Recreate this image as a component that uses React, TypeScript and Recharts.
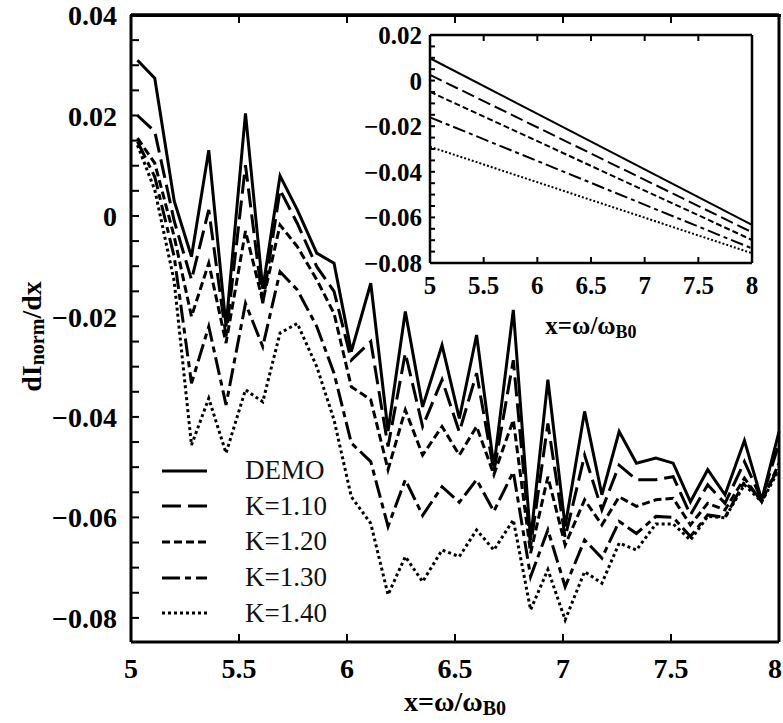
import React from 'react';
import { LineChart, Line, XAxis, YAxis, ReferenceLine } from 'recharts';

const FONT = '"Liberation Serif", "Times New Roman", serif';

// main plot: x grid and the five curves
const xValues = [5.03, 5.11, 5.2, 5.28, 5.36, 5.44, 5.53, 5.61, 5.69, 5.77, 5.86, 5.94, 6.02, 6.11, 6.19, 6.27, 6.35, 6.44, 6.52, 6.6, 6.68, 6.77, 6.85, 6.93, 7.01, 7.1, 7.18, 7.26, 7.34, 7.43, 7.51, 7.59, 7.67, 7.75, 7.84, 7.92, 8.0];
const demo = [0.031, 0.0274, 0.003, -0.0081, 0.0131, -0.022, 0.0204, -0.0145, 0.008, 0.0012, -0.0074, -0.0094, -0.027, -0.0134, -0.0428, -0.019, -0.038, -0.0257, -0.0403, -0.0237, -0.0499, -0.0187, -0.0645, -0.0326, -0.0618, -0.0389, -0.0555, -0.0429, -0.0492, -0.0482, -0.0492, -0.0569, -0.0505, -0.0555, -0.0447, -0.0565, -0.0429];
const k110 = [0.02, 0.0168, -0.001, -0.0127, 0.0012, -0.024, 0.0101, -0.0174, 0.0052, -0.0015, -0.0101, -0.015, -0.0287, -0.025, -0.0459, -0.0273, -0.0419, -0.0326, -0.043, -0.0313, -0.0509, -0.0287, -0.0658, -0.0413, -0.064, -0.0476, -0.0585, -0.0496, -0.0525, -0.0525, -0.0519, -0.0595, -0.0535, -0.0572, -0.0489, -0.0565, -0.0452];
const k120 = [0.0155, 0.0105, -0.0041, -0.02, -0.0094, -0.0253, -0.003, -0.017, -0.0018, -0.0061, -0.0127, -0.0194, -0.034, -0.0366, -0.0505, -0.0386, -0.0476, -0.0419, -0.0476, -0.0419, -0.0515, -0.0406, -0.0671, -0.0519, -0.0655, -0.0565, -0.0615, -0.0559, -0.0578, -0.0565, -0.0562, -0.0615, -0.0572, -0.0585, -0.0522, -0.0569, -0.0492];
const k130 = [0.0148, 0.0078, -0.0081, -0.0333, -0.022, -0.0376, -0.0174, -0.026, -0.0111, -0.0147, -0.022, -0.0313, -0.0452, -0.0489, -0.0618, -0.0525, -0.0596, -0.0539, -0.057, -0.0525, -0.0588, -0.0509, -0.0718, -0.0625, -0.0738, -0.0645, -0.0681, -0.0608, -0.0632, -0.0598, -0.06, -0.0638, -0.0595, -0.06, -0.0529, -0.0565, -0.0499];
const k140 = [0.0141, 0.0052, -0.013, -0.0456, -0.0363, -0.0472, -0.0346, -0.037, -0.0233, -0.0214, -0.03, -0.0406, -0.0559, -0.0612, -0.0754, -0.0678, -0.0728, -0.0665, -0.0678, -0.0625, -0.0665, -0.0605, -0.0784, -0.0704, -0.0804, -0.0708, -0.0731, -0.0651, -0.0665, -0.0613, -0.0613, -0.0645, -0.0598, -0.0601, -0.0535, -0.0569, -0.0505];

const seriesNames = ['DEMO', 'K=1.10', 'K=1.20', 'K=1.30', 'K=1.40'];
const seriesKeys = ['demo', 'k110', 'k120', 'k130', 'k140'];

const mainXTicks = [5, 5.5, 6, 6.5, 7, 7.5, 8];
const mainYTop = 0.04;
const mainYMajor = [0.04, 0.02, 0, -0.02, -0.04, -0.06, -0.08];
const mainYTicks = [0.04, 0.035, 0.03, 0.025, 0.02, 0.015, 0.01, 0.005, 0, -0.005, -0.01, -0.015, -0.02, -0.025, -0.03, -0.035, -0.04, -0.045, -0.05, -0.055, -0.06, -0.065, -0.07, -0.075, -0.08];

// inset: straight lines, start and end values
const insetX = [5, 8];
const insetDemo = [0.0098, -0.0633];
const insetK110 = [0.0025, -0.0665];
const insetK120 = [-0.0049, -0.0699];
const insetK130 = [-0.0161, -0.0736];
const insetK140 = [-0.029, -0.0757];
const insetXTicks = [5, 5.5, 6, 6.5, 7, 7.5, 8];
const insetYMajor = [0.02, 0, -0.02, -0.04, -0.06, -0.08];
const insetYTicks = [0.02, 0.015, 0.01, 0.005, 0, -0.005, -0.01, -0.015, -0.02, -0.025, -0.03, -0.035, -0.04, -0.045, -0.05, -0.055, -0.06, -0.065, -0.07, -0.075, -0.08];

const mainData = xValues.map((x, i) => ({ x, demo: demo[i], k110: k110[i], k120: k120[i], k130: k130[i], k140: k140[i] }));
const insetData = insetX.map((x, i) => ({ x, demo: insetDemo[i], k110: insetK110[i], k120: insetK120[i], k130: insetK130[i], k140: insetK140[i] }));

const mainDash = [undefined, '19 7', '8 4', '18 5 6 5', '3 3'];
const insetDash = [undefined, '13 5', '6 3', '13 4 4 4', '2 2'];

const fmt = (v: number) => {
  const r = Math.round(v * 1000) / 1000;
  if (r === 0) return '0';
  return (r < 0 ? '\u2212' : '') + Math.abs(r).toFixed(2);
};
const isIn = (v: number, list: number[]) => list.some((m) => Math.abs(m - v) < 1e-9);

const leftTick = (majors: number[], len: number, size: number, gap: number) => (props: any) => {
  const { x, y, payload } = props;
  return (
    <g>
      <line x1={x} x2={x + len} y1={y} y2={y} stroke="#000" strokeWidth={2} />
      {isIn(payload.value, majors) && (
        <text x={x - gap} y={y} dy="0.36em" textAnchor="end" fontSize={size} fontWeight="bold" fontFamily={FONT} fill="#000">
          {fmt(payload.value)}
        </text>
      )}
    </g>
  );
};

const rightTick = (len: number) => (props: any) => {
  const { x, y } = props;
  return <line x1={x} x2={x - len} y1={y} y2={y} stroke="#000" strokeWidth={2} />;
};

// last label is pulled in a little so it stays inside the picture
const bottomTick = (len: number, size: number, base: number, lastShift: number) => (props: any) => {
  const { x, y, payload } = props;
  const shift = payload.value === 8 ? lastShift : 0;
  return (
    <g>
      <line x1={x} x2={x} y1={y} y2={y - len} stroke="#000" strokeWidth={2} />
      <text x={x - shift} y={y + base} textAnchor="middle" fontSize={size} fontWeight="bold" fontFamily={FONT} fill="#000">
        {String(payload.value)}
      </text>
    </g>
  );
};

const topTick = (len: number) => (props: any) => {
  const { x, y } = props;
  return <line x1={x} x2={x} y1={y} y2={y + len} stroke="#000" strokeWidth={2} />;
};

const xTitle = (size: number, sub: number, dy: number) => (props: any) => {
  const vb = props.viewBox;
  return (
    <text x={vb.x + vb.width / 2} y={vb.y + dy} textAnchor="middle" fontSize={size} fontWeight="bold" fontFamily={FONT} fill="#000">
      x=ω/ω
      <tspan fontSize={sub} dy={4}>B0</tspan>
    </text>
  );
};

const yTitle = (props: any) => {
  const vb = props.viewBox;
  const cx = 31;
  const cy = vb.y + vb.height / 2 + 8;
  return (
    <text x={cx} y={cy} transform={`rotate(-90 ${cx} ${cy})`} textAnchor="middle" dominantBaseline="central" fontSize={28} fontWeight="bold" fontFamily={FONT} fill="#000">
      dI
      <tspan fontSize={20} dy={6}>norm</tspan>
      <tspan fontSize={28} dy={-6}>/dx</tspan>
    </text>
  );
};

function LegendBox() {
  return (
    <div style={{ position: 'absolute', left: 150, top: 453, width: 260, fontFamily: FONT }}>
      {seriesNames.map((name, i) => (
        <div key={name} style={{ display: 'flex', alignItems: 'center', height: 35.6 }}>
          <svg width={95} height={10} style={{ flex: 'none' }}>
            <line x1={12} x2={57} y1={5} y2={5} stroke="#000" strokeWidth={3} strokeDasharray={mainDash[i]} />
          </svg>
          <span style={{ fontSize: 27, lineHeight: '27px', color: '#111' }}>{name}</span>
        </div>
      ))}
    </div>
  );
}

function Inset() {
  return (
    <LineChart width={410} height={330} data={insetData} margin={{ top: 14, right: 0, bottom: 0, left: 0 }}>
      <XAxis dataKey="x" type="number" domain={[5, 8]} ticks={insetXTicks} interval={0} height={87} tickSize={0} tickMargin={0} tickLine={false}
        axisLine={{ stroke: '#000', strokeWidth: 2.5 }} tick={bottomTick(6, 25, 31, 0)} label={{ content: xTitle(25, 18, 71) }} />
      <XAxis xAxisId="top" orientation="top" dataKey="x" type="number" domain={[5, 8]} ticks={insetXTicks} interval={0} height={1} tickSize={0} tickMargin={0} tickLine={false}
        axisLine={{ stroke: '#000', strokeWidth: 2.5 }} tick={topTick(6)} />
      <YAxis type="number" domain={[-0.08, 0.02]} ticks={insetYTicks} interval={0} width={80} tickSize={0} tickMargin={0} tickLine={false}
        axisLine={{ stroke: '#000', strokeWidth: 2.5 }} tick={leftTick(insetYMajor, 5, 25, 8)} />
      <YAxis yAxisId="right" orientation="right" type="number" domain={[-0.08, 0.02]} ticks={insetYTicks} interval={0} width={8} tickSize={0} tickMargin={0} tickLine={false}
        axisLine={{ stroke: '#000', strokeWidth: 2.5 }} tick={rightTick(5)} />
      {seriesKeys.map((k, i) => (
        <Line key={k} type="linear" dataKey={k} stroke="#000" strokeWidth={2} strokeDasharray={insetDash[i]} dot={false} isAnimationActive={false} />
      ))}
    </LineChart>
  );
}

export default function App() {
  return (
    <div style={{ position: 'absolute', left: 0, top: 0, width: 783, height: 723, background: '#fff' }}>
      <LineChart width={783} height={723} data={mainData} margin={{ top: 14, right: 0, bottom: 0, left: 0 }}>
        <XAxis dataKey="x" type="number" domain={[5, 8]} ticks={mainXTicks} interval={0} height={81} tickSize={0} tickMargin={0} tickLine={false}
          axisLine={{ stroke: '#000', strokeWidth: 3 }} tick={bottomTick(8, 28, 36, 4)} label={{ content: xTitle(28, 20, 69) }} />
        <XAxis xAxisId="top" orientation="top" dataKey="x" type="number" domain={[5, 8]} ticks={mainXTicks} interval={0} height={1} tickSize={0} tickMargin={0} tickLine={false}
          axisLine={{ stroke: '#000', strokeWidth: 3 }} tick={topTick(8)} />
        <YAxis type="number" domain={[-0.0848, 0.04]} allowDataOverflow ticks={mainYTicks} interval={0} width={131} tickSize={0} tickMargin={0} tickLine={false}
          axisLine={{ stroke: '#000', strokeWidth: 3 }} tick={leftTick(mainYMajor, 8, 28, 14)} label={{ content: yTitle }} />
        <YAxis yAxisId="right" orientation="right" type="number" domain={[-0.0848, 0.04]} ticks={mainYTicks} interval={0} width={4} tickSize={0} tickMargin={0} tickLine={false}
          axisLine={{ stroke: '#000', strokeWidth: 3 }} tick={rightTick(8)} />
        {/* top frame and its inward ticks */}
        <ReferenceLine y={mainYTop} stroke="#000" strokeWidth={3} ifOverflow="visible" />
        {mainXTicks.slice(1, -1).map((t) => (
          <ReferenceLine key={t} segment={[{ x: t, y: mainYTop }, { x: t, y: mainYTop - 0.0016 }]} stroke="#000" strokeWidth={2} ifOverflow="visible" />
        ))}
        {seriesKeys.map((k, i) => (
          <Line key={k} type="linear" dataKey={k} name={seriesNames[i]} stroke="#000" strokeWidth={3} strokeDasharray={mainDash[i]} dot={false} isAnimationActive={false} />
        ))}
      </LineChart>
      {/* plain frame edge along the top of the main plot */}
      <div style={{ position: 'absolute', left: 129.5, top: 13.5, width: 651, height: 3, background: '#000' }} />
      <LegendBox />
      <div style={{ position: 'absolute', left: 350, top: 20 }}>
        <Inset />
      </div>
    </div>
  );
}
